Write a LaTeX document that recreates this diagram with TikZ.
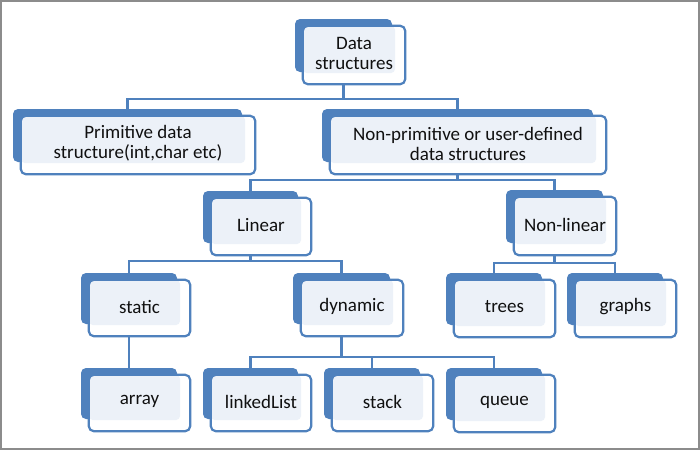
\documentclass[tikz,border=0pt]{standalone}
\usepackage{fontspec}
\setmainfont{Carlito}
\usetikzlibrary{fit,calc}
\definecolor{dsblue}{HTML}{4F81BD}
\definecolor{dsfill}{HTML}{ECF1F8}
\definecolor{dsframe}{HTML}{8C8C8C}
\definecolor{dstext}{HTML}{101010}
\tikzset{
  backbox/.style={fill=dsblue, draw=none, rounded corners=5pt, inner sep=0pt},
  frontbox/.style={fill=white, draw=none, rounded corners=5pt, inner sep=0pt},
  innerfill/.style={fill=dsfill, rounded corners=4pt},
  boxline/.style={draw=dsblue, line width=2.2pt, rounded corners=5pt},
  conn/.style={draw=dsblue, line width=2.5pt},
  dstxt/.style={text=dstext, font=\fontsize{19}{20}\selectfont, align=center, inner sep=0pt},
  frameline/.style={draw=dsframe, line width=2pt},
}
\newcommand\dsbox[6]{%
  \coordinate (#1-p1) at (#2,#3);
  \coordinate (#1-p2) at (#4,#5);
  \coordinate (#1-p3) at (#2+8,#3+7);
  \coordinate (#1-p4) at (#4+13,#5+12);
  \node[backbox, fit=(#1-p1)(#1-p2)] (#1-b) {};
  \node[frontbox, fit=(#1-p3)(#1-p4)] (#1) {};
  \fill[innerfill] (#1.north west) rectangle (#4+3,#5+1);
  \draw[boxline] (#1.north west) rectangle (#1.south east);
  \node[dstxt] (#1-t) at ($(#1.center)+(0,-1.5)$) {#6};
}
\begin{document}
\begin{tikzpicture}[x=1pt,y=-1pt]
\useasboundingbox (0,0) rectangle (700,450);
\fill[white] (0,0) rectangle (700,450);
\draw[frameline] (1,1) rectangle (698.5,448.5);

\coordinate (j1) at (343.5,99);
\coordinate (j2) at (457.5,180);
\coordinate (j3) at (250.5,261);
\coordinate (j4) at (554.5,263);
\coordinate (j5) at (341.5,357);

\dsbox{ds}{295}{19}{392}{72}{Data\\structures}
\dsbox{prim}{13}{109}{242}{162}{Primitive data\\structure(int,char etc)}
\dsbox{nonp}{322}{109}{593}{162}{Non-primitive or user-defined\\data structures}
\dsbox{lin}{203}{191}{298}{243}{Linear}
\dsbox{nlin}{506}{190}{603}{243}{Non-linear}
\dsbox{static}{81}{273}{177}{324}{static}
\dsbox{dyn}{293}{273}{390}{324}{dynamic}
\dsbox{trees}{446}{273}{542}{325}{trees}
\dsbox{graphs}{567}{273}{663}{325}{graphs}
\dsbox{array}{81}{368}{177}{419}{array}
\dsbox{ll}{203}{368}{298}{419}{linkedList}
\dsbox{stack}{324}{368}{420}{419}{stack}
\dsbox{queue}{446}{368}{542}{420}{queue}

\draw[conn] (ds-b.center |- ds.south) -- (j1);
\draw[conn] (prim-b.north) |- (j1) -| (nonp-b.north);
\draw[conn] (nonp-b.center |- nonp.south) -- (j2);
\draw[conn] (lin-b.north) |- (j2) -| (nlin-b.north);
\draw[conn] (lin-b.center |- lin.south) -- (j3);
\draw[conn] (static-b.north) |- (j3) -| (dyn-b.north);
\draw[conn] (nlin-b.center |- nlin.south) -- (j4);
\draw[conn] (trees-b.north) |- (j4) -| (graphs-b.north);
\draw[conn] (static-b.center |- static.south) -- (array-b.north);
\draw[conn] (dyn-b.center |- dyn.south) -- (j5);
\draw[conn] (ll-b.north) |- (j5) -| (queue-b.north);
\draw[conn] (stack-b.north) -- (stack-b.north |- j5);
\end{tikzpicture}
\end{document}
